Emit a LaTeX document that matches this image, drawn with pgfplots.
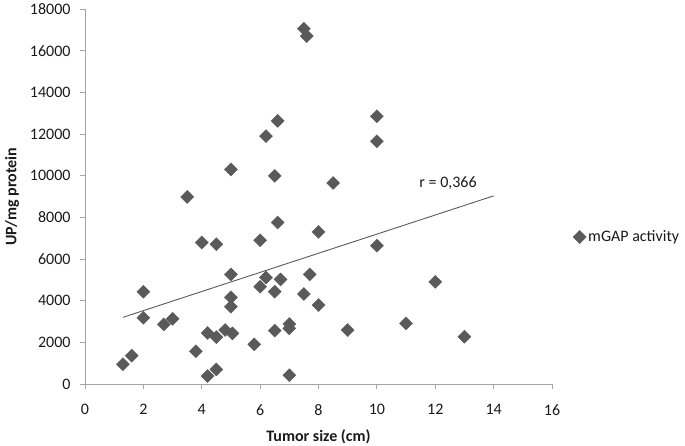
\documentclass[border=0pt]{standalone}
\usepackage{pgfplots}
\pgfplotsset{compat=1.18}
\usepackage{fontspec}
\setmainfont{Carlito}
\definecolor{mk}{HTML}{5A5A5A}
\definecolor{axg}{HTML}{A6A6A6}
\definecolor{txt}{HTML}{1A1A1A}
\begin{document}
\begin{tikzpicture}
\begin{axis}[
  scale only axis,
  width=467pt, height=375pt,
  xmin=0, xmax=16, ymin=0, ymax=18000,
  xtick={0,2,...,16},
  ytick={0,2000,...,18000},
  scaled y ticks=false,
  /pgf/number format/1000 sep={},
  /pgf/number format/assume math mode=true,
  axis lines*=left,
  axis line style={axg, line width=0.8pt, -},
  tick style={axg, line width=0.8pt},
  tick align=outside,
  major tick length=5pt,
  ticklabel style={font=\fontsize{16}{19}\selectfont, text=txt},
  xticklabel style={yshift=-12pt},
  yticklabel style={xshift=-6pt},
  xlabel={\textbf{Tumor size (cm)}},
  ylabel={\textbf{UP/mg protein}},
  label style={font=\fontsize{16}{19}\selectfont, text=txt},
  xlabel style={at={(axis description cs:0.5,0)}, anchor=center, yshift=-53pt},
  ylabel style={at={(axis description cs:0,0.5)}, anchor=center, yshift=73pt},
  clip=false,
  legend style={draw=none, fill=none, at={(axis description cs:1.045,0.392)}, anchor=west,
    font=\fontsize{16}{19}\selectfont, text=txt, inner sep=0pt},
  legend image code/.code={\draw[#1] plot coordinates {(0pt,0pt)};},
]
\coordinate (ll) at (rel axis cs:0,0);
\addplot[only marks, mark=square*, mark size=4.6pt, mark options={rotate=45, fill=mk, draw=mk}, color=mk] coordinates {
(1.3,950) (1.6,1360) (2.0,4430) (2.0,3180) (2.7,2860) (3.0,3130) (3.5,8980) (3.8,1570)
(4.0,6790) (4.2,2450) (4.2,380) (4.5,6710) (4.5,2250) (4.5,700) (4.8,2590) (5.0,5260)
(5.0,4160) (5.0,3710) (5.05,2430) (5.8,1900) (6.0,6900) (6.0,4670) (6.2,5110) (6.5,4430)
(6.5,2560) (6.6,7750) (6.7,5020) (7.0,2880) (7.0,2670) (7.0,420) (7.5,4320) (7.7,5260)
(7.5,17050) (7.6,16700) (6.6,12630) (6.2,11900) (5.0,10300) (6.5,9990) (10.0,12850) (10.0,11650)
(8.5,9650) (8.0,7300) (10.0,6640) (8.0,3790) (9.0,2590) (11.0,2910) (12.0,4900) (13.0,2270)
};
\addlegendentry{mGAP activity}
\addplot[color=mk, line width=0.9pt, forget plot] coordinates {(1.3,3200) (14,9030)};
\node[font=\fontsize{16}{19}\selectfont, text=txt] at (axis cs:12.44,9640) {r = 0,366};
\end{axis}
\pgfresetboundingbox
\path (ll) ++(-85pt,-62pt) rectangle ++(685pt,446pt);
\end{tikzpicture}
\end{document}
